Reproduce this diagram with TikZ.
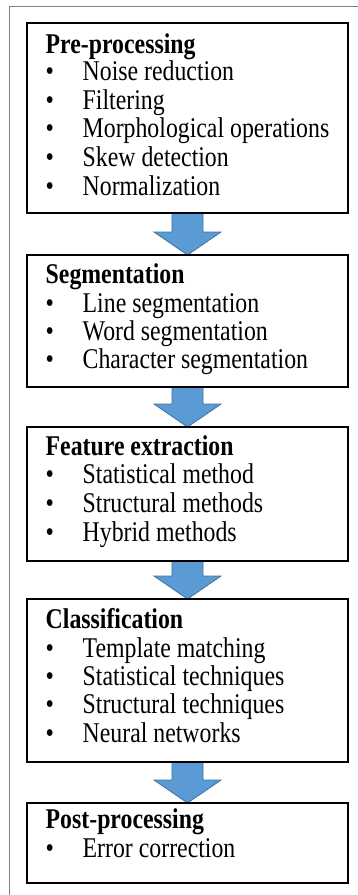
\documentclass[tikz,border=0pt]{standalone}
\usepackage{fontspec}
\setmainfont{Liberation Serif}
\usetikzlibrary{calc,backgrounds}
\definecolor{arrowfill}{HTML}{5B9BD5}
\definecolor{arrowline}{HTML}{41719C}
\definecolor{framegray}{HTML}{808080}
\newcommand\vstretch[1]{\scalebox{1}[1.2]{#1}}
\begin{document}
\begin{tikzpicture}[x=1pt,y=-1pt,
  box/.style={draw=black,line width=2pt,rectangle,inner sep=0pt,outer sep=0pt,minimum width=321pt,anchor=north west},
  ttl/.style={anchor=base west,inner sep=0pt,font=\bfseries\fontsize{23.8}{28}\selectfont},
  itm/.style={anchor=base west,inner sep=0pt,font=\fontsize{23.8}{28}\selectfont},
  blockarr/.style={fill=arrowfill,draw=arrowline,line width=0.8pt,line join=miter},
  frame/.style={draw=framegray,line width=1pt}]
\useasboundingbox (0,0) rectangle (358,895);
\draw[frame] (9,895) -- (9,6.5) -- (358,6.5);

% boxes
\node[box,minimum height=190pt] (b1) at (27,23) {};
\node[box,minimum height=132pt] (b2) at (27,255) {};
\node[box,minimum height=134pt] (b3) at (27,427) {};
\node[box,minimum height=163pt] (b4) at (27,599) {};
\node[box,minimum height=80pt]  (b5) at (27,803) {};

% box 1
\node[ttl] (t1) at (45.5,53) {\vstretch{Pre-processing}};
\node[itm] (d11) at (45.5,80) {\vstretch{•}};  \node[itm] (i11) at (82.5,80) {\vstretch{Noise reduction}};
\node[itm] (d12) at (45.5,109) {\vstretch{•}}; \node[itm] (i12) at (82.5,109) {\vstretch{Filtering}};
\node[itm] (d13) at (45.5,137.5) {\vstretch{•}}; \node[itm] (i13) at (82.5,137.5) {\vstretch{Morphological operations}};
\node[itm] (d14) at (45.5,166.5) {\vstretch{•}}; \node[itm] (i14) at (82.5,166.5) {\vstretch{Skew detection}};
\node[itm] (d15) at (45.5,195) {\vstretch{•}}; \node[itm] (i15) at (82.5,195) {\vstretch{Normalization}};

% box 2
\node[ttl] (t2) at (45.5,283) {\vstretch{Segmentation}};
\node[itm] (d21) at (45.5,312) {\vstretch{•}}; \node[itm] (i21) at (82.5,312) {\vstretch{Line segmentation}};
\node[itm] (d22) at (45.5,340) {\vstretch{•}}; \node[itm] (i22) at (82.5,340) {\vstretch{Word segmentation}};
\node[itm] (d23) at (45.5,368) {\vstretch{•}}; \node[itm] (i23) at (82.5,368) {\vstretch{Character segmentation}};

% box 3
\node[ttl] (t3) at (45.5,455) {\vstretch{Feature extraction}};
\node[itm] (d31) at (45.5,483.5) {\vstretch{•}}; \node[itm] (i31) at (82.5,483.5) {\vstretch{Statistical method}};
\node[itm] (d32) at (45.5,512) {\vstretch{•}}; \node[itm] (i32) at (82.5,512) {\vstretch{Structural methods}};
\node[itm] (d33) at (45.5,541) {\vstretch{•}}; \node[itm] (i33) at (82.5,541) {\vstretch{Hybrid methods}};

% box 4
\node[ttl] (t4) at (45.5,628) {\vstretch{Classification}};
\node[itm] (d41) at (45.5,657) {\vstretch{•}}; \node[itm] (i41) at (82.5,657) {\vstretch{Template matching}};
\node[itm] (d42) at (45.5,685.5) {\vstretch{•}}; \node[itm] (i42) at (82.5,685.5) {\vstretch{Statistical techniques}};
\node[itm] (d43) at (45.5,713.5) {\vstretch{•}}; \node[itm] (i43) at (82.5,713.5) {\vstretch{Structural techniques}};
\node[itm] (d44) at (45.5,742) {\vstretch{•}}; \node[itm] (i44) at (82.5,742) {\vstretch{Neural networks}};

% box 5
\node[ttl] (t5) at (45.5,828.5) {\vstretch{Post-processing}};
\node[itm] (d51) at (45.5,857) {\vstretch{•}}; \node[itm] (i51) at (82.5,857) {\vstretch{Error correction}};

% arrows
\begin{scope}[on background layer]
\foreach \a/\b in {b1/b2,b2/b3,b3/b4,b4/b5}{
  \path[blockarr] ($(\a.south)+(-15.5,0)$) -- ($(\a.south)+(15.5,0)$)
    -- ($(\b.north)+(15.5,-23)$) -- ($(\b.north)+(33.5,-23)$)
    -- (\b.north) -- ($(\b.north)+(-33.5,-23)$)
    -- ($(\b.north)+(-15.5,-23)$) -- cycle;
}
\end{scope}
\end{tikzpicture}
\end{document}
